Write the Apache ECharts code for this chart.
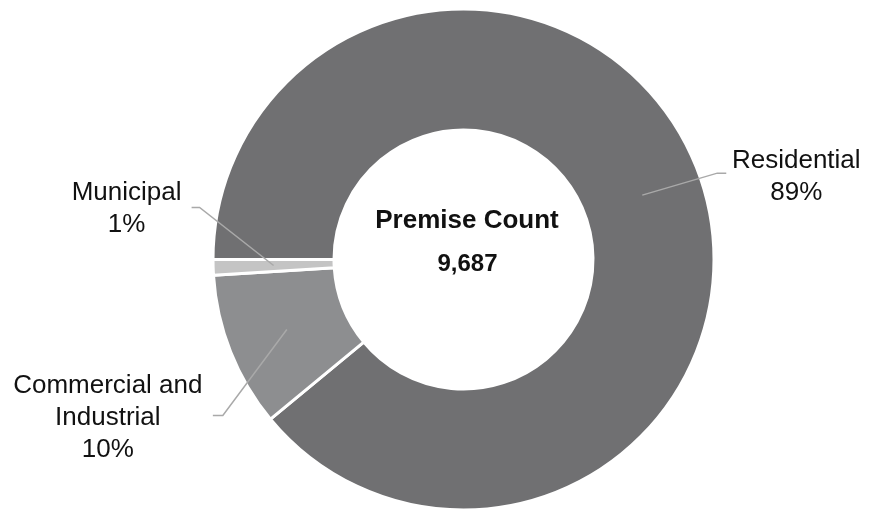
<!DOCTYPE html>
<html><head><meta charset="utf-8">
<script src="https://cdn.jsdelivr.net/npm/echarts@6/dist/echarts.min.js"></script>
<style>html,body{margin:0;padding:0;background:#fff}#c{width:869px;height:514px}</style>
</head><body><div id="c"></div>
<script>
const categories = ['Residential', 'Commercial and Industrial', 'Municipal'];
const labelNames = ['Residential', 'Commercial and\nIndustrial', 'Municipal'];
const shares = [89, 10, 1];
const totalLabel = 'Premise Count';
const totalValue = '9,687';
const colors = ['#707072', '#8d8e90', '#c4c4c4'];
// label placement offsets (style) relative to the anchor the library computes
const labelOffsets = [
  {elbow: [75, -22], end: [84, -22], text: [154, -18]},
  {elbow: [-64, 86], end: [-74, 86], text: [-179, 88]},
  {elbow: [-74, -58], end: [-82, -58], text: [-147, -57]}
];

const data = categories.map((c, i) => ({name: c, value: shares[i], itemStyle: {color: colors[i]}}));
const chart = echarts.init(document.getElementById('c'), null, {renderer: 'canvas'});
const font = '"Liberation Sans", Arial, sans-serif';
chart.setOption({
  animation: false,
  backgroundColor: '#fff',
  series: [
    {
      type: 'pie', z: 1, center: [463.5, 259.5], radius: [129.5, 250.5],
      startAngle: 180, clockwise: true, silent: true,
      itemStyle: {borderColor: '#fff', borderWidth: 3},
      label: {show: false}, labelLine: {show: false},
      emphasis: {disabled: true},
      data: data
    },
    {
      type: 'pie', z: 5, center: [463.5, 259.5], radius: [0, 190],
      startAngle: 180, clockwise: true, silent: true, avoidLabelOverlap: false,
      itemStyle: {color: 'rgba(0,0,0,0)', borderWidth: 0},
      emphasis: {disabled: true},
      label: {
        show: true, color: '#111', fontFamily: font, fontSize: 26, lineHeight: 32,
        formatter: p => labelNames[p.dataIndex] + '\n' + Math.round(p.percent) + '%'
      },
      labelLine: {show: true, length: 40, length2: 10, lineStyle: {color: '#a9a9a9', width: 1.5}},
      labelLayout: function (p) {
        const o = labelOffsets[p.dataIndex];
        const pts = p.labelLinePoints;
        if (!pts || !o) return {};
        const a = pts[0];
        return {
          x: a[0] + o.text[0], y: a[1] + o.text[1], align: 'center', verticalAlign: 'middle',
          labelLinePoints: [[a[0], a[1]], [a[0] + o.elbow[0], a[1] + o.elbow[1]], [a[0] + o.end[0], a[1] + o.end[1]]]
        };
      },
      data: data.map(d => ({name: d.name, value: d.value}))
    }
  ],
  graphic: [
    {type: 'text', x: 467, y: 221, style: {text: totalLabel, font: 'bold 26px ' + font, fill: '#111', align: 'center', verticalAlign: 'middle'}},
    {type: 'text', x: 467.5, y: 264, style: {text: totalValue, font: 'bold 24px ' + font, fill: '#111', align: 'center', verticalAlign: 'middle'}}
  ]
});
</script></body></html>
